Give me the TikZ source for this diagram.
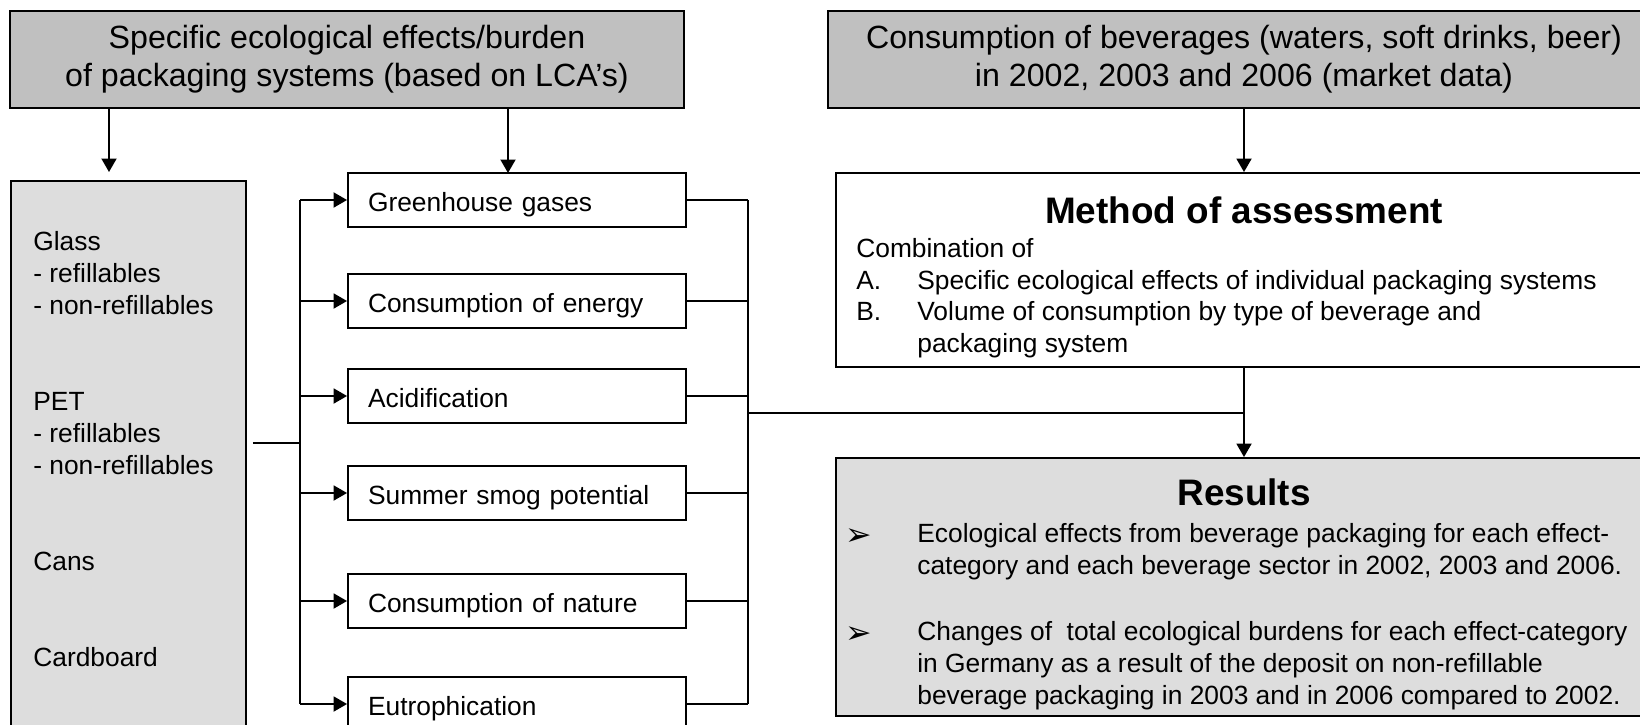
\documentclass[tikz,border=0pt]{standalone}
\usepackage{fontspec}
\setmainfont{Liberation Sans}
\newfontfamily\dejavu{DejaVu Sans}
\usetikzlibrary{arrows.meta}
\definecolor{headgray}{RGB}{192,192,192}
\definecolor{boxgray}{RGB}{221,221,221}

\begin{document}
\begin{tikzpicture}[x=0.02cm, y=-0.02cm,
    box/.style = {draw, line width=1.1pt, inner sep=0pt},
    headbox/.style = {box, fill=headgray, minimum height=1.94cm, align=center,
        font=\fontsize{18.3pt}{21.6pt}\selectfont},
    effbox/.style = {box, minimum width=6.76cm, minimum height=1.08cm,
        text width=5.96cm, inner xsep=0.4cm, align=left,
        text height=12.6pt, text depth=0pt,
        font=\fontsize{15pt}{18pt}\selectfont},
    txt/.style = {inner sep=0pt, font=\fontsize{15pt}{18pt}\selectfont},
    title/.style = {inner sep=0pt, font=\bfseries\fontsize{21pt}{25pt}\selectfont},
    link/.style = {line width=1.1pt},
    flow/.style = {link, -{Triangle[length=0.27cm, width=0.3cm]}}]

        \path [use as bounding box, fill=white] (0,0) rectangle (1640,724);
        \clip (0,0) rectangle (1640,724);

        % inputs
        \node [headbox, minimum width=13.48cm] (spec) at (347,59.5)
            {Specific ecological effects/burden\\of packaging systems (based on LCA's)};
        \node [headbox, minimum width=16.64cm] (cons) at (1244,59.5)
            {Consumption of beverages (waters, soft drinks, beer)\\in 2002, 2003 and 2006 (market data)};

        % packaging systems
        \node [box, fill=boxgray, minimum width=4.7cm, minimum height=12.38cm] (pkg) at (128.5,490.5) {};
        \node [txt, anchor=north west, align=left, font=\fontsize{15pt}{18.2pt}\selectfont] (pkglist) at (33,231)
            {Glass\\- refillables\\- non-refillables\\[36.4pt]PET\\- refillables\\- non-refillables\\[36.4pt]Cans\\[36.4pt]Cardboard};

        % effect categories
        \node [effbox] (ghg) at (517,200) {Greenhouse gases};
        \node [effbox] (energy) at (517,301) {Consumption of energy};
        \node [effbox] (acid) at (517,396) {Acidification};
        \node [effbox] (smog) at (517,493) {Summer smog potential};
        \node [effbox] (nature) at (517,601) {Consumption of nature};
        \node [effbox] (eutro) at (517,704) {Eutrophication};

        % method
        \node [box, fill=white, minimum width=16.32cm, minimum height=3.88cm] (method) at (1244,270) {};
        \node [title] (methtitle) at (1244,210) {Method of assessment};
        \node [txt, anchor=north west] (methtext) at (856,235) {\begin{tabular}{@{}p{1.22cm}@{}l@{}}
            \multicolumn{2}{@{}l@{}}{Combination of}\\
            A. & Specific ecological effects of individual packaging systems\\
            B. & Volume of consumption by type of beverage and\\
               & packaging system
            \end{tabular}};

        % results
        \node [box, fill=boxgray, minimum width=16.32cm, minimum height=5.16cm] (results) at (1244,587) {};
        \node [title] (restitle) at (1244,492) {Results};
        \node [txt, anchor=north west] (restext) at (845,520) {\begin{tabular}{@{}p{1.44cm}@{}l@{}}
            \smash{\raisebox{-1.5pt}{\dejavu\fontsize{18pt}{18pt}\selectfont ➢}} & Ecological effects from beverage packaging for each effect-\\
              & category and each beverage sector in 2002, 2003 and 2006.\\[20pt]
            \smash{\raisebox{-1.5pt}{\dejavu\fontsize{18pt}{18pt}\selectfont ➢}} & Changes of\ \ total ecological burdens for each effect-category\\
              & in Germany as a result of the deposit on non-refillable\\
              & beverage packaging in 2003 and in 2006 compared to 2002.
            \end{tabular}};

        % connectors
        \coordinate (pkgin) at (109,172);
        \coordinate (effin) at (508,173);
        \coordinate (busL) at (300,443);
        \coordinate (busR) at (748,413);

        \draw [flow] (spec.south -| pkgin) -- (pkgin);
        \draw [flow] (spec.south -| effin) -- (effin);
        \draw [flow] (cons.south) -- (method.north);

        \draw [link, shorten <=0.12cm] (pkg.east |- busL) -- (busL);
        \draw [link] (ghg.west -| busL) -- (eutro.west -| busL);
        \draw [flow] (ghg.west -| busL) -- (ghg.west);
        \draw [flow] (energy.west -| busL) -- (energy.west);
        \draw [flow] (acid.west -| busL) -- (acid.west);
        \draw [flow] (smog.west -| busL) -- (smog.west);
        \draw [flow] (nature.west -| busL) -- (nature.west);
        \draw [flow] (eutro.west -| busL) -- (eutro.west);

        \draw [link] (ghg.east -| busR) -- (eutro.east -| busR);
        \draw [link] (ghg.east) -- (ghg.east -| busR);
        \draw [link] (energy.east) -- (energy.east -| busR);
        \draw [link] (acid.east) -- (acid.east -| busR);
        \draw [link] (smog.east) -- (smog.east -| busR);
        \draw [link] (nature.east) -- (nature.east -| busR);
        \draw [link] (eutro.east) -- (eutro.east -| busR);

        \draw [link] (busR) -- (busR -| method.south);
        \draw [flow] (method.south) -- (results.north);

\end{tikzpicture}
\end{document}
